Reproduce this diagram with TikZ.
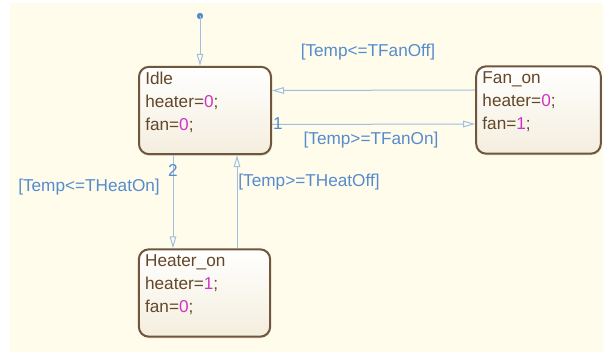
\documentclass[tikz,border=0pt]{standalone}
\usepackage{fontspec}
\setmainfont{Liberation Sans}
\usetikzlibrary{arrows.meta,shadows}
\definecolor{chartbg}{RGB}{255,252,235}
\definecolor{stateline}{RGB}{112,86,60}
\definecolor{statetext}{RGB}{100,70,40}
\definecolor{statebottom}{RGB}{244,238,222}
\definecolor{valcol}{RGB}{210,50,200}
\definecolor{transline}{RGB}{160,190,225}
\definecolor{translabel}{RGB}{85,140,205}
\newcommand{\val}[1]{\textcolor{valcol}{#1}}
\begin{document}
\begin{tikzpicture}[x=0.75pt,y=-0.75pt,
  state/.style={draw=stateline,line width=1.5pt,rounded corners=7.5pt,
    top color=white,bottom color=statebottom,
    drop shadow={shadow xshift=0.5pt,shadow yshift=-1.2pt,opacity=0.2},
    minimum width=#1,minimum height=65.5pt,inner sep=0pt},
  statelabel/.style={anchor=north west,inner sep=0pt,align=left,text=statetext,
    font=\fontsize{12.9}{17.25}\selectfont},
  trans/.style={draw=transline,line width=0.75pt,-{Triangle[open,length=9pt,width=5pt]}},
  translab/.style={text=translabel,inner sep=0pt,font=\fontsize{12.9}{15}\selectfont}]
\useasboundingbox (0,0) rectangle (603,352);
\fill[chartbg] (10,3) rectangle (603,352);
% states
\node[state=99pt] (idle) at (205,110.5) {};
\node[state=93.5pt] (fanon) at (538.5,110) {};
\node[state=98.5pt] (heateron) at (204.5,293) {};
\node[statelabel] (idletxt) at ([shift={(7,6)}]idle.north west)
  {Idle\\heater=\val{0};\\fan=\val{0};};
\node[statelabel] (fanontxt) at ([shift={(7,6)}]fanon.north west)
  {Fan\_on\\heater=\val{0};\\fan=\val{1};};
\node[statelabel] (heaterontxt) at ([shift={(7,6)}]heateron.north west)
  {Heater\_on\\heater=\val{1};\\fan=\val{0};};
% default transition
\coordinate (init) at (200,16);
\fill[translabel] (init) circle (3.2);
\draw[trans] (init) -- (init |- idle.north);
% transitions
\draw[trans] ([shift={(0,-20)}]fanon.west) -- ([shift={(0,-20)}]idle.east);
\draw[trans] ([shift={(0,14)}]idle.east) -- ([shift={(0,14)}]fanon.west);
\draw[trans] ([shift={(-32,0)}]idle.south) -- ([shift={(-31.5,0)}]heateron.north);
\draw[trans] ([shift={(32.5,0)}]heateron.north) -- ([shift={(32,0)}]idle.south);
% labels
\node[translab] (lfanoff) at (368,52) {[Temp<=TFanOff]};
\node[translab] (lfanon) at (371,140) {[Temp>=TFanOn]};
\node[translab] (lheaton) at (89,187) {[Temp<=THeatOn]};
\node[translab] (lheatoff) at (309,182) {[Temp>=THeatOff]};
\node[translab] (prio1) at (278,123.5) {1};
\node[translab] (prio2) at (173,170.5) {2};
\end{tikzpicture}
\end{document}
